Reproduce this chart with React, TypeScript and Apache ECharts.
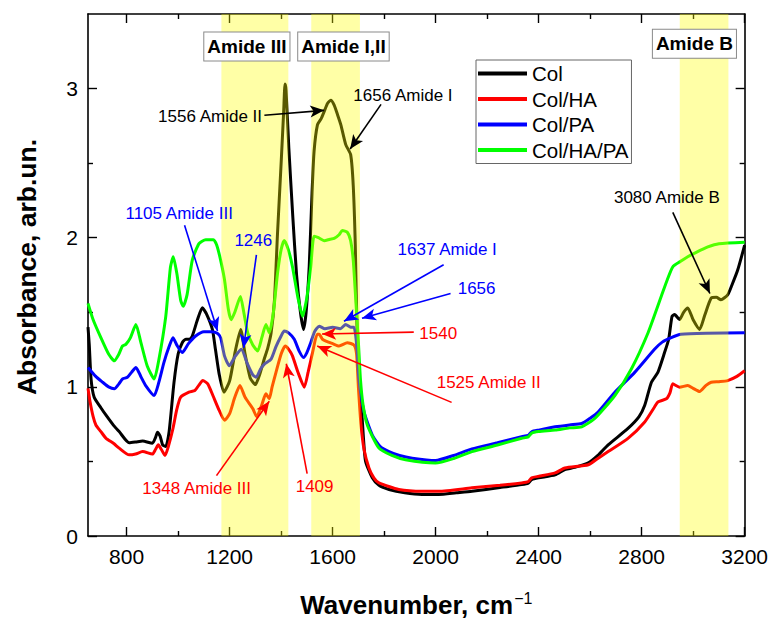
import React, { useEffect, useRef } from 'react';
import * as echarts from 'echarts';

const FONT = "'Liberation Sans', Arial, Helvetica, sans-serif";

// ---- axes ----
const xMin = 650;
const xMax = 3200;
const yMin = 0;
const yMax = 3.5;
const xMajorTicks = [800, 1200, 1600, 2000, 2400, 2800, 3200];
const xMinorTicks = [1000, 1400, 1800, 2200, 2600, 3000];
const yMajorTicks = [0, 1, 2, 3];
const yMinorTicks = [0.5, 1.5, 2.5];

// ---- series ----
const seriesNames = ['Col', 'Col/HA', 'Col/PA', 'Col/HA/PA'];
const seriesColors = ['#000000', '#ff0000', '#0000ff', '#00ff00'];

const colData = [
  [650, 1.4], [655, 1.28], [662, 1.05], [674, 0.93], [700, 0.86], [720, 0.81], [750, 0.74], [771, 0.7],
  [810, 0.625], [835, 0.63], [862, 0.637], [900, 0.622], [912, 0.66], [920, 0.695], [930, 0.67], [940, 0.61],
  [952, 0.6], [965, 0.7], [984, 1.03], [1000, 1.22], [1016, 1.296], [1030, 1.32], [1045, 1.32], [1055, 1.341],
  [1075, 1.45], [1094, 1.53], [1110, 1.49], [1133, 1.385], [1145, 1.25], [1160, 1.08], [1178, 0.964],
  [1200, 1.04], [1222, 1.24], [1243, 1.385], [1260, 1.22], [1280, 1.06], [1300, 1.015], [1318, 1.09],
  [1335, 1.19], [1348, 1.26], [1361, 1.36], [1374, 1.58], [1386, 2.03], [1400, 2.5], [1410, 2.85],
  [1415, 3.03], [1419, 2.99], [1430, 2.6], [1445, 2.15], [1460, 1.75], [1475, 1.5], [1487, 1.385],
  [1497, 1.5], [1509, 1.805], [1520, 2.3], [1528, 2.58], [1541, 2.757], [1556, 2.8], [1567, 2.845],
  [1580, 2.9], [1593, 2.922], [1606, 2.889], [1620, 2.82], [1632, 2.757], [1651, 2.624], [1670, 2.557],
  [1680, 2.35], [1688, 1.95], [1696, 1.3], [1709, 0.942], [1720, 0.65], [1728, 0.5], [1754, 0.39],
  [1780, 0.34], [1819, 0.312], [1880, 0.29], [1947, 0.279], [2012, 0.279], [2080, 0.29], [2141, 0.3],
  [2250, 0.325], [2334, 0.345], [2360, 0.355], [2373, 0.378], [2400, 0.39], [2464, 0.41], [2502, 0.445],
  [2540, 0.46], [2593, 0.49], [2630, 0.54], [2670, 0.611], [2747, 0.721], [2790, 0.8], [2812, 0.876],
  [2838, 1.031], [2863, 1.097], [2889, 1.23], [2905, 1.319], [2918, 1.473], [2928, 1.485], [2947, 1.452],
  [2963, 1.5], [2979, 1.529], [3000, 1.45], [3025, 1.385], [3045, 1.48], [3070, 1.595], [3090, 1.6],
  [3108, 1.584], [3134, 1.617], [3150, 1.68], [3173, 1.783], [3200, 1.95],
];

const colHaData = [
  [650, 0.99], [658, 0.9], [670, 0.8], [681, 0.743], [700, 0.7], [720, 0.655], [750, 0.62], [771, 0.589],
  [810, 0.544], [835, 0.55], [862, 0.566], [900, 0.549], [912, 0.58], [923, 0.611], [935, 0.58], [949, 0.54],
  [962, 0.6], [980, 0.721], [995, 0.85], [1010, 0.931], [1042, 0.964], [1065, 0.975], [1080, 1.01],
  [1096, 1.042], [1115, 1.02], [1135, 0.942], [1160, 0.84], [1180, 0.776], [1200, 0.82], [1220, 0.93],
  [1240, 1.009], [1260, 0.93], [1290, 0.854], [1305, 0.8], [1325, 0.88], [1341, 0.953], [1354, 0.92],
  [1365, 1.0], [1380, 1.097], [1400, 1.22], [1416, 1.274], [1430, 1.25], [1444, 1.208], [1465, 1.1],
  [1490, 0.998], [1505, 1.1], [1522, 1.23], [1540, 1.352], [1548, 1.352], [1560, 1.32], [1574, 1.307],
  [1600, 1.29], [1625, 1.274], [1657, 1.296], [1683, 1.28], [1693, 1.22], [1700, 1.0], [1710, 0.75],
  [1722, 0.58], [1741, 0.456], [1760, 0.39], [1780, 0.356], [1857, 0.312], [1950, 0.3], [2012, 0.3],
  [2141, 0.323], [2250, 0.34], [2334, 0.356], [2360, 0.365], [2373, 0.39], [2400, 0.4], [2464, 0.423],
  [2502, 0.456], [2593, 0.478], [2630, 0.52], [2670, 0.566], [2747, 0.655], [2812, 0.765], [2850, 0.865],
  [2863, 0.898], [2896, 0.92], [2910, 0.96], [2921, 1.02], [2947, 0.998], [2979, 1.009], [3000, 0.99],
  [3025, 0.969], [3050, 1.01], [3070, 1.031], [3100, 1.035], [3134, 1.042], [3170, 1.07], [3200, 1.108],
];

const colPaData = [
  [650, 1.13], [680, 1.07], [707, 1.031], [730, 1.0], [752, 0.987], [770, 1.02], [784, 1.053], [803, 1.064],
  [820, 1.1], [836, 1.13], [855, 1.07], [874, 1.009], [907, 0.942], [925, 1.03], [945, 1.164], [965, 1.27],
  [980, 1.33], [995, 1.28], [1016, 1.23], [1040, 1.29], [1068, 1.341], [1100, 1.37], [1130, 1.37],
  [1152, 1.36], [1165, 1.33], [1180, 1.208], [1199, 1.142], [1220, 1.2], [1245, 1.252], [1270, 1.15],
  [1290, 1.08], [1303, 1.064], [1320, 1.12], [1335, 1.153], [1361, 1.186], [1380, 1.27], [1400, 1.341],
  [1412, 1.374], [1430, 1.36], [1451, 1.319], [1470, 1.24], [1487, 1.197], [1500, 1.23], [1515, 1.296],
  [1530, 1.37], [1548, 1.407], [1570, 1.39], [1600, 1.4], [1630, 1.39], [1651, 1.418], [1670, 1.4],
  [1683, 1.4], [1695, 1.25], [1702, 1.053], [1722, 0.832], [1754, 0.677], [1785, 0.6], [1819, 0.566],
  [1860, 0.54], [1909, 0.522], [1999, 0.506], [2070, 0.54], [2141, 0.584], [2240, 0.625], [2334, 0.666],
  [2360, 0.675], [2373, 0.699], [2400, 0.71], [2464, 0.732], [2520, 0.745], [2567, 0.754], [2600, 0.79],
  [2631, 0.832], [2696, 0.964], [2773, 1.097], [2850, 1.252], [2880, 1.3], [2915, 1.33], [2953, 1.352],
  [3050, 1.36], [3200, 1.363],
];

const colHaPaData = [
  [650, 1.56], [670, 1.45], [700, 1.33], [730, 1.22], [752, 1.175], [770, 1.22], [784, 1.274], [797, 1.285],
  [815, 1.33], [836, 1.418], [855, 1.3], [880, 1.14], [907, 1.053], [925, 1.18], [952, 1.473], [970, 1.8],
  [981, 1.872], [995, 1.76], [1010, 1.58], [1020, 1.54], [1035, 1.62], [1055, 1.85], [1081, 1.96],
  [1107, 1.987], [1137, 1.987], [1150, 1.95], [1165, 1.85], [1180, 1.72], [1195, 1.52], [1206, 1.45],
  [1220, 1.5], [1242, 1.606], [1255, 1.5], [1270, 1.363], [1290, 1.28], [1309, 1.241], [1325, 1.33],
  [1341, 1.418], [1354, 1.363], [1370, 1.5], [1386, 1.761], [1400, 1.92], [1412, 1.982], [1428, 1.92],
  [1444, 1.805], [1465, 1.6], [1483, 1.473], [1500, 1.6], [1515, 1.805], [1528, 2.01], [1545, 2.0],
  [1567, 1.98], [1590, 1.99], [1606, 1.995], [1625, 2.02], [1638, 2.048], [1657, 2.037], [1670, 1.98],
  [1680, 1.85], [1690, 1.58], [1700, 1.3], [1708, 1.05], [1718, 0.88], [1735, 0.743], [1780, 0.589],
  [1830, 0.54], [1883, 0.511], [1999, 0.489], [2070, 0.52], [2141, 0.566], [2240, 0.61], [2334, 0.655],
  [2360, 0.665], [2373, 0.69], [2400, 0.7], [2464, 0.71], [2520, 0.725], [2567, 0.732], [2618, 0.788],
  [2696, 0.942], [2760, 1.12], [2825, 1.363], [2876, 1.606], [2900, 1.72], [2921, 1.805], [2950, 1.84],
  [2979, 1.872], [3010, 1.9], [3057, 1.938], [3100, 1.96], [3200, 1.97],
];

const seriesData = [colData, colHaData, colPaData, colHaPaData];

// ---- highlighted regions (wavenumber ranges) ----
const bandNames = ['Amide III', 'Amide I,II', 'Amide B'];
const bandRanges = [[1168, 1428], [1517, 1706], [2948, 3137]];
const bandLabelAt = [[1267, 3.282], [1642, 3.282], [3005, 3.3]];

// ---- annotations (data coordinates) ----
const annotations = [
  { text: '1556 Amide II', color: '#000000', at: [1124, 2.814], from: [1335, 2.821], to: [1567, 2.854] },
  { text: '1656 Amide I', color: '#000000', at: [1873, 2.954], from: [1788, 2.894], to: [1668, 2.595] },
  { text: '1105 Amide III', color: '#0000ff', at: [1004, 2.164], from: [1025, 2.084], to: [1153, 1.374] },
  { text: '1246', color: '#0000ff', at: [1292, 1.978], from: [1304, 1.885], to: [1254, 1.261] },
  { text: '1637 Amide I', color: '#0000ff', at: [2045, 1.918], from: [2031, 1.819], to: [1644, 1.44] },
  { text: '1656', color: '#0000ff', at: [2159, 1.659], from: [2058, 1.626], to: [1714, 1.46] },
  { text: '1540', color: '#ff0000', at: [2010, 1.361], from: [1915, 1.367], to: [1559, 1.354] },
  { text: '1525 Amide II', color: '#ff0000', at: [2206, 1.029], from: [2062, 0.896], to: [1540, 1.274] },
  { text: '1348 Amide III', color: '#ff0000', at: [1072, 0.319], from: [1149, 0.405], to: [1354, 0.903] },
  { text: '1409', color: '#ff0000', at: [1530, 0.332], from: [1501, 0.418], to: [1420, 1.155] },
  { text: '3080 Amide B', color: '#000000', at: [2898, 2.27], from: [2921, 2.17], to: [3065, 1.626] },
];

const plainNumber = (v: number) => String(v);

function makeXAxis(position: 'top' | 'bottom', ticks: number[], len: number, showLine: boolean, showLabel: boolean) {
  return {
    type: 'value',
    gridIndex: 0,
    position,
    min: xMin,
    max: xMax,
    splitLine: { show: false },
    axisLine: { show: showLine, onZero: false, lineStyle: { color: '#000', width: 1.6 } },
    axisTick: { show: true, inside: true, length: len, customValues: ticks, lineStyle: { color: '#000', width: 1.4 } },
    axisLabel: {
      show: showLabel,
      customValues: ticks,
      formatter: plainNumber,
      fontSize: 21,
      color: '#000',
      fontFamily: FONT,
      margin: 10,
    },
  };
}

function makeYAxis(position: 'left' | 'right', ticks: number[], len: number, showLine: boolean, showLabel: boolean) {
  return {
    type: 'value',
    gridIndex: 0,
    position,
    min: yMin,
    max: yMax,
    splitLine: { show: false },
    axisLine: { show: showLine, onZero: false, lineStyle: { color: '#000', width: 1.6 } },
    axisTick: { show: true, inside: true, length: len, customValues: ticks, lineStyle: { color: '#000', width: 1.4 } },
    axisLabel: {
      show: showLabel,
      customValues: ticks,
      formatter: plainNumber,
      fontSize: 21,
      color: '#000',
      fontFamily: FONT,
      margin: 10,
    },
  };
}

export default function App() {
  const ref = useRef<HTMLDivElement>(null);

  useEffect(() => {
    document.body.style.margin = '0';
    if (!ref.current) return;
    const chart = echarts.init(ref.current, undefined, { renderer: 'svg' });

    const xAxes: any[] = [
      makeXAxis('bottom', xMajorTicks, 9, true, true),
      makeXAxis('bottom', xMinorTicks, 5, false, false),
      makeXAxis('top', xMajorTicks, 9, true, false),
      makeXAxis('top', xMinorTicks, 5, false, false),
    ];
    xAxes[0].name = '{m|Wavenumber, cm}{s|\u22121}';
    xAxes[0].nameLocation = 'middle';
    xAxes[0].nameGap = 54;
    xAxes[0].nameTextStyle = {
      fontFamily: FONT,
      rich: {
        m: { fontSize: 26, fontWeight: 'bold', color: '#000', fontFamily: FONT, lineHeight: 30 },
        s: { fontSize: 16, fontWeight: 'normal', color: '#000', fontFamily: FONT, verticalAlign: 'top', lineHeight: 30, padding: [0, 0, 10, 1] },
      },
    };

    const yAxes: any[] = [
      makeYAxis('left', yMajorTicks, 9, true, true),
      makeYAxis('left', yMinorTicks, 5, false, false),
      makeYAxis('right', yMajorTicks, 9, true, false),
      makeYAxis('right', yMinorTicks, 5, false, false),
    ];
    yAxes[0].name = 'Absorbance, arb.un.';
    yAxes[0].nameLocation = 'middle';
    yAxes[0].nameGap = 48;
    yAxes[0].nameTextStyle = { fontSize: 26.5, fontWeight: 'bold', color: '#000', fontFamily: FONT, padding: [0, 0, 0, 16] };

    const series: any[] = seriesNames.map((name, i) => ({
      name,
      type: 'line',
      xAxisIndex: 0,
      yAxisIndex: 0,
      data: seriesData[i],
      symbol: 'none',
      smooth: 0.2,
      lineStyle: { color: seriesColors[i], width: 3 },
      itemStyle: { color: seriesColors[i] },
      emphasis: { disabled: true },
      z: 2,
    }));

    series[3].markArea = {
      silent: true,
      z: 3,
      itemStyle: { color: 'rgba(255,255,0,0.35)', borderWidth: 0 },
      label: { show: false },
      data: bandRanges.map((r) => [{ xAxis: r[0] }, { xAxis: r[1] }]),
    };

    series[0].markPoint = {
      silent: true,
      symbol: 'rect',
      symbolSize: 1,
      itemStyle: { color: 'rgba(0,0,0,0)' },
      label: { show: true, position: 'inside', formatter: '{b}', fontSize: 17, fontFamily: FONT },
      data: [
        ...annotations.map((a) => ({ name: a.text, coord: a.at, label: { color: a.color } })),
        ...bandNames.map((n, i) => ({
          name: n,
          coord: bandLabelAt[i],
          label: {
            color: '#000',
            fontWeight: 'bold',
            fontSize: 19,
            backgroundColor: '#ffffff',
            borderColor: '#8a8a8a',
            borderWidth: 1,
            padding: [5, 3, 4, 3],
          },
        })),
      ],
    };

    series[0].markLine = {
      silent: true,
      symbol: ['none', 'arrow'],
      symbolSize: 12,
      label: { show: false },
      lineStyle: { type: 'solid', width: 1.6 },
      emphasis: { disabled: true },
      data: annotations.map((a) => [
        { coord: a.from, symbol: 'none', lineStyle: { color: a.color, type: 'solid', width: 1.6 }, itemStyle: { color: a.color } },
        { coord: a.to, symbol: 'arrow', symbolSize: [9, 14], lineStyle: { color: a.color, type: 'solid', width: 1.6 }, itemStyle: { color: a.color } },
      ]),
    };

    chart.setOption({
      animation: false,
      backgroundColor: '#ffffff',
      grid: { left: 88, top: 14, right: 21, bottom: 81, containLabel: false },
      xAxis: xAxes,
      yAxis: yAxes,
      legend: {
        orient: 'vertical',
        left: 476,
        top: 60,
        data: seriesNames.map((n) => ({ name: n, icon: 'rect' })),
        itemWidth: 49,
        itemHeight: 4,
        itemGap: 4.5,
        padding: [3, 3, 3, 2],
        borderColor: '#666',
        borderWidth: 1,
        backgroundColor: '#ffffff',
        selectedMode: false,
        textStyle: { fontSize: 20.5, color: '#000', fontFamily: FONT },
      },
      series,
    });

    return () => chart.dispose();
  }, []);

  return <div ref={ref} style={{ width: 771, height: 623 }} />;
}
